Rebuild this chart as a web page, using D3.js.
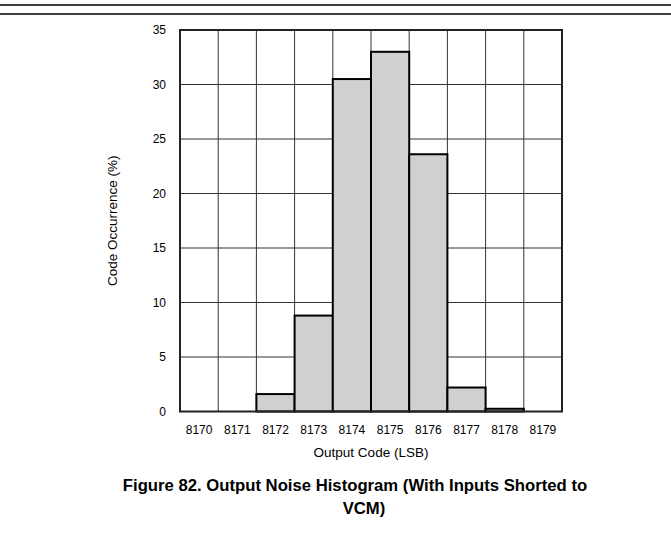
<!DOCTYPE html>
<html>
<head>
<meta charset="utf-8">
<script src="https://cdn.jsdelivr.net/npm/d3@7"></script>
<style>
    body { margin: 0; background: #fff; }
    text { font-family: Arial, "Liberation Sans", sans-serif; }
</style>
</head>
<body>
<div id="chart"></div>
<script>
// output codes and their occurrence (%)
var codes = ["8170", "8171", "8172", "8173", "8174", "8175", "8176", "8177", "8178", "8179"];
var occurrence = [0, 0, 1.6, 8.8, 30.5, 33.0, 23.6, 2.2, 0.25, 0];
var yTicks = [0, 5, 10, 15, 20, 25, 30, 35];

var W = 671, H = 534;
var plotL = 180, plotR = 562, plotT = 30, plotB = 411.5;

var svg = d3.select("#chart").append("svg")
    .attr("width", W)
    .attr("height", H);

// double rule at the top of the page
svg.append("line").attr("x1", 0).attr("x2", W).attr("y1", 5).attr("y2", 5)
    .attr("stroke", "#000").attr("stroke-width", 1.5);
svg.append("line").attr("x1", 0).attr("x2", W).attr("y1", 14).attr("y2", 14)
    .attr("stroke", "#000").attr("stroke-width", 1.5);

var x = d3.scaleBand()
    .domain(codes)
    .range([plotL, plotR])
    .padding(0);

var y = d3.scaleLinear()
    .domain([0, 35])
    .range([plotB, plotT]);

// grid
svg.append("g").selectAll("line")
    .data(yTicks)
    .enter().append("line")
    .attr("x1", plotL).attr("x2", plotR)
    .attr("y1", function(d){ return y(d); })
    .attr("y2", function(d){ return y(d); })
    .attr("stroke", "#333")
    .attr("stroke-width", 1);

svg.append("g").selectAll("line")
    .data(codes)
    .enter().append("line")
    .attr("x1", function(d){ return x(d); })
    .attr("x2", function(d){ return x(d); })
    .attr("y1", plotT).attr("y2", plotB)
    .attr("stroke", "#333")
    .attr("stroke-width", 1);

// bars
var barData = codes.map(function(c, i){ return { code: c, value: occurrence[i] }; })
    .filter(function(d){ return d.value > 0; });

svg.append("g").selectAll("rect")
    .data(barData)
    .enter().append("rect")
    .attr("x", function(d){ return x(d.code); })
    .attr("y", function(d){ return y(d.value); })
    .attr("width", x.bandwidth())
    .attr("height", function(d){ return plotB - y(d.value); })
    .attr("fill", "#d0d0d0")
    .attr("stroke", "#000")
    .attr("stroke-width", 2);

// frame
svg.append("rect")
    .attr("x", plotL).attr("y", plotT)
    .attr("width", plotR - plotL).attr("height", plotB - plotT)
    .attr("fill", "none")
    .attr("stroke", "#222")
    .attr("stroke-width", 2);

// axes (labels only)
var yAxis = svg.append("g")
    .attr("transform", "translate(" + plotL + ",0)")
    .call(d3.axisLeft(y).tickValues(yTicks).tickSize(0).tickPadding(14));
yAxis.select(".domain").remove();
yAxis.selectAll("text").attr("font-size", 12).attr("fill", "#000")
    .style("font-family", "Arial, 'Liberation Sans', sans-serif");

var xAxis = svg.append("g")
    .attr("transform", "translate(0," + plotB + ")")
    .call(d3.axisBottom(x).tickSize(0).tickPadding(14));
xAxis.select(".domain").remove();
xAxis.selectAll("text").attr("font-size", 12).attr("fill", "#000")
    .style("font-family", "Arial, 'Liberation Sans', sans-serif");

// axis titles
svg.append("text")
    .attr("x", (plotL + plotR) / 2)
    .attr("y", 457)
    .attr("text-anchor", "middle")
    .attr("font-size", 13.5)
    .text("Output Code (LSB)");

svg.append("text")
    .attr("transform", "translate(117," + ((plotT + plotB) / 2) + ") rotate(-90)")
    .attr("text-anchor", "middle")
    .attr("font-size", 13.5)
    .text("Code Occurrence (%)");

// caption
svg.append("text")
    .attr("x", 355)
    .attr("y", 491)
    .attr("text-anchor", "middle")
    .attr("font-size", 16.7)
    .attr("font-weight", "bold")
    .text("Figure 82. Output Noise Histogram (With Inputs Shorted to");
svg.append("text")
    .attr("x", 364)
    .attr("y", 514)
    .attr("text-anchor", "middle")
    .attr("font-size", 16.7)
    .attr("font-weight", "bold")
    .text("VCM)");
</script>
</body>
</html>
